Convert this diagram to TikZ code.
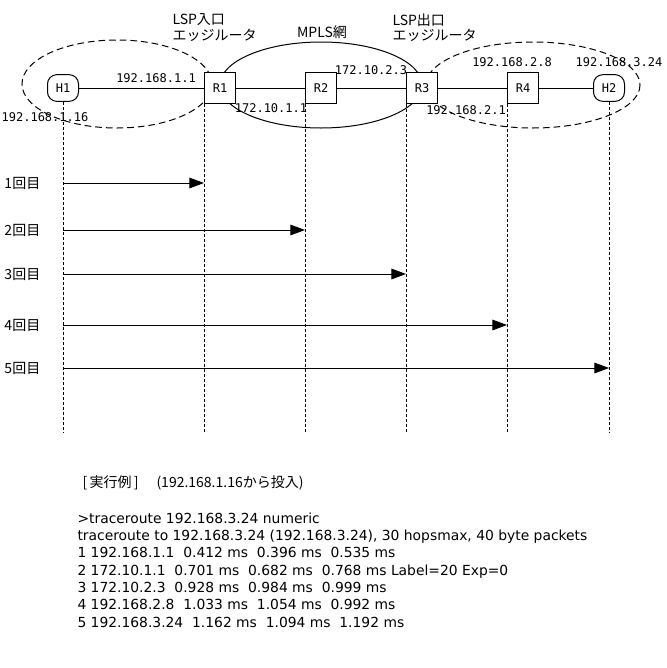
\documentclass[tikz,border=0pt]{standalone}
\usepackage{fontspec}
\setmainfont{Noto Sans CJK JP}
\newfontfamily\ipfont{DejaVu Sans Mono}
\newfontfamily\tracefont{DejaVu Sans}
\usetikzlibrary{arrows.meta}

\begin{document}
\begin{tikzpicture}[x=0.75pt,y=-0.75pt,line width=0.75pt,
	box/.style={draw,fill=white,minimum width=23.25pt,minimum height=23.25pt,inner sep=0pt,font=\ipfont\fontsize{9}{11}\selectfont},
	host/.style={box,rounded corners=7pt,minimum height=20pt},
	addr/.style={inner sep=0pt,font=\ipfont\fontsize{9}{11}\selectfont},
	jtext/.style={inner sep=0pt,font=\fontsize{10.5}{12}\selectfont},
	area/.style={dash pattern=on 5pt off 3pt},
	lifeline/.style={dash pattern=on 2.25pt off 1.5pt},
	hop/.style={-{Triangle[length=11pt,width=8pt]}}]
	\useasboundingbox (0,0) rectangle (667,668);
	% areas
	\draw[area] (117,84) ellipse [x radius=95,y radius=44];
	\draw (321,85) ellipse [x radius=101,y radius=43];
	\draw[area] (533,85) ellipse [x radius=107,y radius=43];
	% hosts and routers
	\node[host] (h1) at (63,88) {H1};
	\node[box] (r1) at (220,88) {R1};
	\node[box] (r2) at (321,88) {R2};
	\node[box] (r3) at (422,88) {R3};
	\node[box] (r4) at (523,88) {R4};
	\node[host] (h2) at (609,88) {H2};
	\draw (h1) -- (r1);
	\draw (r1) -- (r2);
	\draw (r2) -- (r3);
	\draw (r3) -- (r4);
	\draw (r4) -- (h2);
	% labels
	\node[jtext,anchor=west] (in1) at (172,20) {LSP入口};
	\node[jtext,anchor=west] (in2) at (172,35) {エッジルータ};
	\node[jtext] (mpls) at (322,32) {MPLS網};
	\node[jtext,anchor=west] (out1) at (392,20) {LSP出口};
	\node[jtext,anchor=west] (out2) at (392,35) {エッジルータ};
	\node[addr] (a11) at (156,78) {192.168.1.1};
	\node[addr] (a116) at (45,117) {192.168.1.16};
	\node[addr] (a101) at (271,108) {172.10.1.1};
	\node[addr] (a102) at (371,70) {172.10.2.3};
	\node[addr] (a28) at (512,62) {192.168.2.8};
	\node[addr] (a324) at (619,62) {192.168.3.24};
	\node[addr] (a21) at (466,110) {192.168.2.1};
	% lifelines
	\coordinate (bottom) at (0,432);
	\draw[lifeline] (h1.south) -- (h1.south |- bottom);
	\draw[lifeline] (r1.south west) -- (r1.south west |- bottom);
	\draw[lifeline] (r2.south west) -- (r2.south west |- bottom);
	\draw[lifeline] (r3.south west) -- (r3.south west |- bottom);
	\draw[lifeline] (r4.south west) -- (r4.south west |- bottom);
	\draw[lifeline] (h2.south) -- (h2.south |- bottom);
	% probes
	\foreach \n/\y/\dst/\anc in {1/183/r1/south west,2/230/r2/south west,3/274/r3/south west,4/325/r4/south west,5/368/h2/south}{
		\node[jtext,anchor=west] (try\n) at (4,\y) {\n{}回目};
		\coordinate (from\n) at (h1.south |- try\n);
		\draw[hop] (from\n) -- (\dst.\anc |- from\n);
	}
	% output
	\node[jtext,anchor=west] (example) at (82,483) {[\,実行例\,]};
	\node[jtext,anchor=west] (source) at (156,483) {(192.168.1.16から投入)};
	\node[inner sep=0pt,anchor=west,align=left,font=\tracefont\fontsize{10.4}{13}\selectfont] (trace) at (77,570) {%
		>traceroute 192.168.3.24 numeric\\
		traceroute to 192.168.3.24 (192.168.3.24), 30 hopsmax, 40 byte packets\\
		1 192.168.1.1~ 0.412 ms~ 0.396 ms~ 0.535 ms\\
		2 172.10.1.1~ 0.701 ms~ 0.682 ms~ 0.768 ms Label=20 Exp=0\\
		3 172.10.2.3~ 0.928 ms~ 0.984 ms~ 0.999 ms\\
		4 192.168.2.8~ 1.033 ms~ 1.054 ms~ 0.992 ms\\
		5 192.168.3.24~ 1.162 ms~ 1.094 ms~ 1.192 ms};
\end{tikzpicture}
\end{document}
